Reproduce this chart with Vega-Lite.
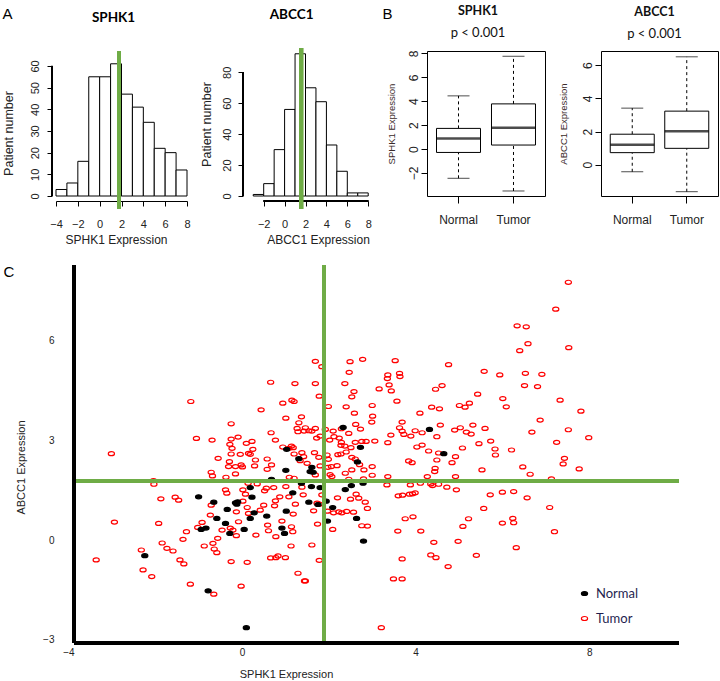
{
"$schema":"https://vega.github.io/schema/vega-lite/v6.json",
"padding":{"left":2,"top":4,"right":2,"bottom":2},
"background":"white",
"title":{"text":"A","anchor":"start","fontSize":15,"offset":-17},
"config":{"font":"Liberation Sans","view":{"stroke":null},
"axis":{"grid":false,"labelFont":"Liberation Sans","titleFont":"Liberation Sans","titleFontWeight":"normal","labelColor":"#222","titleColor":"#222","tickColor":"#000","domainColor":"#000","labelFlush":false,"labelOverlap":false},
"title":{"font":"Liberation Sans","fontWeight":"normal","color":"#000"}},
"datasets":{"pts":[
{"x":7.52,"y":7.76,"g":"Tumor"},{"x":7.23,"y":6.95,"g":"Tumor"},{"x":6.34,"y":6.45,"g":"Tumor"},{"x":6.55,"y":6.42,"g":"Tumor"},{"x":6.59,"y":5.91,"g":"Tumor"},{"x":6.40,"y":5.70,"g":"Tumor"},{"x":7.53,"y":5.79,"g":"Tumor"},{"x":1.69,"y":5.38,"g":"Tumor"},{"x":2.49,"y":5.37,"g":"Tumor"},{"x":2.78,"y":5.44,"g":"Tumor"},{"x":3.53,"y":5.40,"g":"Tumor"},{"x":4.76,"y":5.28,"g":"Tumor"},{"x":5.58,"y":5.08,"g":"Tumor"},{"x":5.94,"y":4.97,"g":"Tumor"},{"x":6.53,"y":5.02,"g":"Tumor"},{"x":6.91,"y":4.99,"g":"Tumor"},{"x":2.47,"y":5.05,"g":"Tumor"},{"x":3.36,"y":4.97,"g":"Tumor"},{"x":3.63,"y":5.02,"g":"Tumor"},{"x":3.64,"y":4.92,"g":"Tumor"},{"x":3.35,"y":4.86,"g":"Tumor"},{"x":3.39,"y":4.67,"g":"Tumor"},{"x":1.69,"y":4.71,"g":"Tumor"},{"x":2.37,"y":4.71,"g":"Tumor"},{"x":6.51,"y":4.65,"g":"Tumor"},{"x":6.81,"y":4.62,"g":"Tumor"},{"x":4.61,"y":4.65,"g":"Tumor"},{"x":4.46,"y":4.54,"g":"Tumor"},{"x":3.16,"y":4.55,"g":"Tumor"},{"x":3.44,"y":4.49,"g":"Tumor"},{"x":2.58,"y":4.47,"g":"Tumor"},{"x":1.78,"y":4.33,"g":"Tumor"},{"x":2.53,"y":4.31,"g":"Tumor"},{"x":5.43,"y":4.39,"g":"Tumor"},{"x":6.01,"y":4.26,"g":"Tumor"},{"x":7.33,"y":4.21,"g":"Tumor"},{"x":3.57,"y":4.18,"g":"Tumor"},{"x":1.99,"y":4.02,"g":"Tumor"},{"x":2.40,"y":4.01,"g":"Tumor"},{"x":3.00,"y":4.05,"g":"Tumor"},{"x":4.37,"y":4.00,"g":"Tumor"},{"x":4.55,"y":3.95,"g":"Tumor"},{"x":5.01,"y":4.05,"g":"Tumor"},{"x":5.14,"y":4.00,"g":"Tumor"},{"x":5.24,"y":4.12,"g":"Tumor"},{"x":6.09,"y":4.01,"g":"Tumor"},{"x":7.81,"y":3.88,"g":"Tumor"},{"x":2.59,"y":3.82,"g":"Tumor"},{"x":4.10,"y":3.82,"g":"Tumor"},{"x":3.01,"y":3.73,"g":"Tumor"},{"x":2.99,"y":3.55,"g":"Tumor"},{"x":3.69,"y":3.55,"g":"Tumor"},{"x":6.87,"y":3.61,"g":"Tumor"},{"x":2.62,"y":3.48,"g":"Tumor"},{"x":4.57,"y":3.46,"g":"Tumor"},{"x":5.32,"y":3.46,"g":"Tumor"},{"x":3.63,"y":3.38,"g":"Tumor"},{"x":3.69,"y":3.28,"g":"Tumor"},{"x":3.73,"y":3.18,"g":"Tumor"},{"x":3.89,"y":3.13,"g":"Tumor"},{"x":3.99,"y":3.29,"g":"Tumor"},{"x":4.15,"y":3.23,"g":"Tumor"},{"x":3.43,"y":3.16,"g":"Tumor"},{"x":2.73,"y":3.34,"g":"Tumor"},{"x":2.46,"y":3.21,"g":"Tumor"},{"x":4.49,"y":3.11,"g":"Tumor"},{"x":4.90,"y":3.31,"g":"Tumor"},{"x":5.03,"y":3.38,"g":"Tumor"},{"x":5.17,"y":3.25,"g":"Tumor"},{"x":5.28,"y":3.19,"g":"Tumor"},{"x":5.60,"y":3.36,"g":"Tumor"},{"x":6.68,"y":3.25,"g":"Tumor"},{"x":7.52,"y":3.32,"g":"Tumor"},{"x":7.99,"y":3.08,"g":"Tumor"},{"x":7.25,"y":2.94,"g":"Tumor"},{"x":5.73,"y":2.98,"g":"Tumor"},{"x":5.46,"y":2.90,"g":"Tumor"},{"x":6.21,"y":2.71,"g":"Tumor"},{"x":5.83,"y":2.74,"g":"Tumor"},{"x":5.84,"y":2.56,"g":"Tumor"},{"x":5.08,"y":2.77,"g":"Tumor"},{"x":4.92,"y":2.51,"g":"Tumor"},{"x":4.03,"y":2.80,"g":"Tumor"},{"x":4.15,"y":2.86,"g":"Tumor"},{"x":4.30,"y":2.68,"g":"Tumor"},{"x":4.53,"y":2.62,"g":"Tumor"},{"x":3.06,"y":2.98,"g":"Tumor"},{"x":2.76,"y":2.97,"g":"Tumor"},{"x":2.86,"y":2.97,"g":"Tumor"},{"x":3.36,"y":2.93,"g":"Tumor"},{"x":2.51,"y":2.78,"g":"Tumor"},{"x":2.02,"y":3.01,"g":"Tumor"},{"x":2.12,"y":3.11,"g":"Tumor"},{"x":2.24,"y":3.07,"g":"Tumor"},{"x":2.29,"y":2.94,"g":"Tumor"},{"x":2.37,"y":2.83,"g":"Tumor"},{"x":1.67,"y":2.63,"g":"Tumor"},{"x":1.77,"y":2.49,"g":"Tumor"},{"x":1.96,"y":2.56,"g":"Tumor"},{"x":2.40,"y":2.65,"g":"Tumor"},{"x":2.28,"y":2.59,"g":"Tumor"},{"x":2.53,"y":2.49,"g":"Tumor"},{"x":7.43,"y":2.46,"g":"Tumor"},{"x":1.69,"y":3.36,"g":"Tumor"},{"x":1.46,"y":3.38,"g":"Tumor"},{"x":1.54,"y":3.29,"g":"Tumor"},{"x":1.72,"y":3.07,"g":"Tumor"},{"x":1.80,"y":3.13,"g":"Tumor"},{"x":1.92,"y":3.33,"g":"Tumor"},{"x":2.10,"y":3.28,"g":"Tumor"},{"x":7.40,"y":2.29,"g":"Tumor"},{"x":7.77,"y":2.14,"g":"Tumor"},{"x":6.47,"y":2.20,"g":"Tumor"},{"x":6.64,"y":1.98,"g":"Tumor"},{"x":7.13,"y":1.84,"g":"Tumor"},{"x":5.53,"y":2.11,"g":"Tumor"},{"x":4.92,"y":1.91,"g":"Tumor"},{"x":4.45,"y":2.16,"g":"Tumor"},{"x":4.44,"y":2.06,"g":"Tumor"},{"x":4.49,"y":2.41,"g":"Tumor"},{"x":4.84,"y":2.33,"g":"Tumor"},{"x":3.84,"y":2.38,"g":"Tumor"},{"x":3.92,"y":2.33,"g":"Tumor"},{"x":4.27,"y":1.91,"g":"Tumor"},{"x":4.35,"y":1.69,"g":"Tumor"},{"x":4.39,"y":1.64,"g":"Tumor"},{"x":4.53,"y":1.68,"g":"Tumor"},{"x":4.11,"y":1.71,"g":"Tumor"},{"x":3.88,"y":1.66,"g":"Tumor"},{"x":3.34,"y":1.66,"g":"Tumor"},{"x":3.36,"y":1.91,"g":"Tumor"},{"x":3.00,"y":2.21,"g":"Tumor"},{"x":3.00,"y":1.95,"g":"Tumor"},{"x":2.81,"y":2.11,"g":"Tumor"},{"x":2.80,"y":1.84,"g":"Tumor"},{"x":2.19,"y":2.24,"g":"Tumor"},{"x":2.06,"y":2.21,"g":"Tumor"},{"x":2.03,"y":1.97,"g":"Tumor"},{"x":4.72,"y":1.59,"g":"Tumor"},{"x":4.94,"y":1.51,"g":"Tumor"},{"x":5.72,"y":1.36,"g":"Tumor"},{"x":6.00,"y":1.44,"g":"Tumor"},{"x":6.26,"y":1.46,"g":"Tumor"},{"x":6.57,"y":1.27,"g":"Tumor"},{"x":7.09,"y":0.98,"g":"Tumor"},{"x":5.57,"y":0.95,"g":"Tumor"},{"x":5.22,"y":0.64,"g":"Tumor"},{"x":5.09,"y":0.41,"g":"Tumor"},{"x":6.00,"y":0.51,"g":"Tumor"},{"x":6.24,"y":0.65,"g":"Tumor"},{"x":6.26,"y":0.52,"g":"Tumor"},{"x":7.20,"y":0.25,"g":"Tumor"},{"x":6.32,"y":-0.23,"g":"Tumor"},{"x":5.40,"y":-0.46,"g":"Tumor"},{"x":4.98,"y":-0.04,"g":"Tumor"},{"x":4.42,"y":-0.07,"g":"Tumor"},{"x":4.12,"y":0.27,"g":"Tumor"},{"x":3.76,"y":0.64,"g":"Tumor"},{"x":3.94,"y":0.70,"g":"Tumor"},{"x":3.60,"y":1.33,"g":"Tumor"},{"x":3.70,"y":1.35,"g":"Tumor"},{"x":3.86,"y":1.38,"g":"Tumor"},{"x":3.93,"y":1.39,"g":"Tumor"},{"x":3.99,"y":1.42,"g":"Tumor"},{"x":3.59,"y":0.27,"g":"Tumor"},{"x":3.69,"y":-0.57,"g":"Tumor"},{"x":4.35,"y":-0.45,"g":"Tumor"},{"x":4.47,"y":-0.53,"g":"Tumor"},{"x":4.75,"y":-0.80,"g":"Tumor"},{"x":3.49,"y":-1.17,"g":"Tumor"},{"x":3.69,"y":-1.17,"g":"Tumor"},{"x":3.21,"y":-2.64,"g":"Tumor"},{"x":2.84,"y":1.14,"g":"Tumor"},{"x":2.89,"y":0.95,"g":"Tumor"},{"x":2.63,"y":1.38,"g":"Tumor"},{"x":2.69,"y":1.26,"g":"Tumor"},{"x":2.41,"y":0.86,"g":"Tumor"},{"x":2.57,"y":0.84,"g":"Tumor"},{"x":2.76,"y":0.43,"g":"Tumor"},{"x":2.89,"y":0.42,"g":"Tumor"},{"x":2.09,"y":0.32,"g":"Tumor"},{"x":2.20,"y":1.27,"g":"Tumor"},{"x":1.74,"y":0.48,"g":"Tumor"},{"x":1.61,"y":-0.15,"g":"Tumor"},{"x":1.78,"y":-0.61,"g":"Tumor"},{"x":1.44,"y":-1.23,"g":"Tumor"},{"x":1.65,"y":0.88,"g":"Tumor"},{"x":1.73,"y":1.11,"g":"Tumor"},{"x":1.78,"y":1.08,"g":"Tumor"},{"x":1.97,"y":0.87,"g":"Tumor"},{"x":2.11,"y":0.82,"g":"Tumor"},{"x":1.41,"y":1.36,"g":"Tumor"},{"x":1.38,"y":1.59,"g":"Tumor"},{"x":-3.36,"y":-0.60,"g":"Tumor"},{"x":-2.94,"y":0.54,"g":"Tumor"},{"x":-3.01,"y":2.60,"g":"Tumor"},{"x":-2.32,"y":-0.30,"g":"Tumor"},{"x":-2.28,"y":-0.90,"g":"Tumor"},{"x":-2.08,"y":-1.10,"g":"Tumor"},{"x":-2.04,"y":1.79,"g":"Tumor"},{"x":-2.03,"y":1.68,"g":"Tumor"},{"x":-1.87,"y":1.24,"g":"Tumor"},{"x":-1.92,"y":0.50,"g":"Tumor"},{"x":-1.84,"y":-0.09,"g":"Tumor"},{"x":-1.73,"y":-0.25,"g":"Tumor"},{"x":-1.59,"y":-0.33,"g":"Tumor"},{"x":-1.54,"y":1.29,"g":"Tumor"},{"x":-1.46,"y":1.20,"g":"Tumor"},{"x":-1.36,"y":0.02,"g":"Tumor"},{"x":-1.28,"y":0.25,"g":"Tumor"},{"x":-1.43,"y":-0.60,"g":"Tumor"},{"x":-1.34,"y":-0.72,"g":"Tumor"},{"x":-1.19,"y":-1.33,"g":"Tumor"},{"x":-1.02,"y":0.38,"g":"Tumor"},{"x":-0.92,"y":0.53,"g":"Tumor"},{"x":-0.87,"y":-0.18,"g":"Tumor"},{"x":-0.71,"y":2.04,"g":"Tumor"},{"x":-0.68,"y":1.93,"g":"Tumor"},{"x":-0.65,"y":-1.63,"g":"Tumor"},{"x":-0.67,"y":-0.10,"g":"Tumor"},{"x":-0.64,"y":-0.27,"g":"Tumor"},{"x":-0.58,"y":-0.38,"g":"Tumor"},{"x":-0.73,"y":0.75,"g":"Tumor"},{"x":-0.71,"y":1.05,"g":"Tumor"},{"x":-0.55,"y":2.46,"g":"Tumor"},{"x":-0.56,"y":0.05,"g":"Tumor"},{"x":-0.46,"y":0.30,"g":"Tumor"},{"x":-0.38,"y":1.51,"g":"Tumor"},{"x":-0.35,"y":1.41,"g":"Tumor"},{"x":-0.28,"y":2.88,"g":"Tumor"},{"x":-0.23,"y":2.76,"g":"Tumor"},{"x":-0.25,"y":2.59,"g":"Tumor"},{"x":-0.29,"y":2.36,"g":"Tumor"},{"x":-0.31,"y":2.21,"g":"Tumor"},{"x":-0.25,"y":-0.65,"g":"Tumor"},{"x":-0.21,"y":0.30,"g":"Tumor"},{"x":-0.27,"y":0.36,"g":"Tumor"},{"x":-0.15,"y":1.99,"g":"Tumor"},{"x":-0.13,"y":0.13,"g":"Tumor"},{"x":-0.13,"y":0.85,"g":"Tumor"},{"x":-0.08,"y":0.55,"g":"Tumor"},{"x":-0.04,"y":2.58,"g":"Tumor"},{"x":-0.02,"y":2.26,"g":"Tumor"},{"x":0.01,"y":2.20,"g":"Tumor"},{"x":-0.02,"y":-1.39,"g":"Tumor"},{"x":0.12,"y":-0.67,"g":"Tumor"},{"x":0.02,"y":1.51,"g":"Tumor"},{"x":0.08,"y":1.38,"g":"Tumor"},{"x":0.02,"y":1.17,"g":"Tumor"},{"x":0.12,"y":0.98,"g":"Tumor"},{"x":0.15,"y":0.80,"g":"Tumor"},{"x":0.19,"y":2.58,"g":"Tumor"},{"x":0.10,"y":2.91,"g":"Tumor"},{"x":0.32,"y":0.15,"g":"Tumor"},{"x":0.14,"y":1.71,"g":"Tumor"},{"x":0.35,"y":1.69,"g":"Tumor"},{"x":0.31,"y":2.41,"g":"Tumor"},{"x":0.29,"y":2.23,"g":"Tumor"},{"x":0.42,"y":0.90,"g":"Tumor"},{"x":0.50,"y":1.05,"g":"Tumor"},{"x":0.52,"y":1.48,"g":"Tumor"},{"x":0.58,"y":2.44,"g":"Tumor"},{"x":0.58,"y":2.13,"g":"Tumor"},{"x":0.59,"y":0.45,"g":"Tumor"},{"x":0.61,"y":0.28,"g":"Tumor"},{"x":0.66,"y":-0.54,"g":"Tumor"},{"x":0.78,"y":-0.53,"g":"Tumor"},{"x":0.83,"y":-0.48,"g":"Tumor"},{"x":1.00,"y":-0.53,"g":"Tumor"},{"x":0.68,"y":2.26,"g":"Tumor"},{"x":0.73,"y":1.58,"g":"Tumor"},{"x":0.77,"y":1.18,"g":"Tumor"},{"x":0.87,"y":1.30,"g":"Tumor"},{"x":0.75,"y":1.03,"g":"Tumor"},{"x":0.92,"y":0.57,"g":"Tumor"},{"x":0.78,"y":0.10,"g":"Tumor"},{"x":1.13,"y":-0.18,"g":"Tumor"},{"x":1.14,"y":0.40,"g":"Tumor"},{"x":1.17,"y":0.25,"g":"Tumor"},{"x":1.18,"y":0.78,"g":"Tumor"},{"x":1.23,"y":1.08,"g":"Tumor"},{"x":1.08,"y":1.30,"g":"Tumor"},{"x":1.01,"y":1.61,"g":"Tumor"},{"x":1.09,"y":1.89,"g":"Tumor"},{"x":1.20,"y":1.86,"g":"Tumor"},{"x":1.14,"y":2.83,"g":"Tumor"},{"x":1.20,"y":2.59,"g":"Tumor"},{"x":1.38,"y":2.63,"g":"Tumor"},{"x":1.42,"y":2.51,"g":"Tumor"},{"x":1.34,"y":2.39,"g":"Tumor"},{"x":1.50,"y":2.31,"g":"Tumor"},{"x":1.29,"y":-1.00,"g":"Tumor"},{"x":1.46,"y":-1.23,"g":"Tumor"},{"x":1.84,"y":1.36,"g":"Tumor"},{"x":1.69,"y":1.96,"g":"Tumor"},{"x":1.98,"y":2.19,"g":"Tumor"},{"x":2.07,"y":1.91,"g":"Tumor"},{"x":2.23,"y":0.85,"g":"Tumor"},{"x":2.30,"y":0.82,"g":"Tumor"},{"x":2.46,"y":1.83,"g":"Tumor"},{"x":2.53,"y":2.11,"g":"Tumor"},{"x":2.50,"y":1.23,"g":"Tumor"},{"x":2.38,"y":2.01,"g":"Tumor"},{"x":-1.18,"y":4.17,"g":"Tumor"},{"x":-1.05,"y":3.06,"g":"Tumor"},{"x":-0.69,"y":3.01,"g":"Tumor"},{"x":-0.25,"y":3.50,"g":"Tumor"},{"x":-0.09,"y":3.10,"g":"Tumor"},{"x":-0.25,"y":3.04,"g":"Tumor"},{"x":0.23,"y":2.97,"g":"Tumor"},{"x":0.44,"y":3.92,"g":"Tumor"},{"x":0.66,"y":4.75,"g":"Tumor"},{"x":0.67,"y":3.23,"g":"Tumor"},{"x":0.77,"y":3.01,"g":"Tumor"},{"x":0.94,"y":4.12,"g":"Tumor"},{"x":1.15,"y":4.21,"g":"Tumor"},{"x":1.20,"y":4.17,"g":"Tumor"},{"x":1.01,"y":3.67,"g":"Tumor"},{"x":1.22,"y":4.71,"g":"Tumor"},{"x":1.37,"y":3.71,"g":"Tumor"},{"x":1.31,"y":3.53,"g":"Tumor"},{"x":1.27,"y":3.36,"g":"Tumor"},{"x":1.29,"y":3.26,"g":"Tumor"},{"x":1.84,"y":5.22,"g":"Tumor"},{"x":0.94,"y":2.80,"g":"Tumor"},{"x":1.08,"y":2.76,"g":"Tumor"},{"x":0.15,"y":2.61,"g":"Tumor"},{"x":2.29,"y":3.35,"g":"Tumor"},{"x":1.99,"y":2.43,"g":"Tumor"},{"x":2.21,"y":2.57,"g":"Tumor"},{"x":2.61,"y":2.44,"g":"Tumor"},{"x":2.71,"y":2.27,"g":"Tumor"},{"x":1.80,"y":2.23,"g":"Tumor"},{"x":1.43,"y":3.28,"g":"Tumor"},{"x":1.61,"y":3.28,"g":"Tumor"},{"x":0.25,"y":2.73,"g":"Tumor"},{"x":-0.15,"y":2.21,"g":"Tumor"},{"x":0.56,"y":1.56,"g":"Tumor"},{"x":1.18,"y":2.78,"g":"Tumor"},{"x":2.28,"y":2.85,"g":"Tumor"},{"x":2.61,"y":2.94,"g":"Tumor"},{"x":-0.37,"y":1.89,"g":"Tumor"},
{"x":-2.24,"y":-0.47,"g":"Normal"},{"x":-0.78,"y":-1.53,"g":"Normal"},{"x":0.10,"y":-2.64,"g":"Normal"},{"x":-1.00,"y":1.30,"g":"Normal"},{"x":-0.65,"y":1.14,"g":"Normal"},{"x":-0.94,"y":0.32,"g":"Normal"},{"x":-0.83,"y":0.36,"g":"Normal"},{"x":-0.58,"y":0.65,"g":"Normal"},{"x":-0.38,"y":0.50,"g":"Normal"},{"x":-0.28,"y":0.20,"g":"Normal"},{"x":-0.34,"y":0.92,"g":"Normal"},{"x":-0.15,"y":1.12,"g":"Normal"},{"x":-0.10,"y":1.15,"g":"Normal"},{"x":-0.12,"y":1.08,"g":"Normal"},{"x":0.05,"y":0.32,"g":"Normal"},{"x":0.19,"y":1.58,"g":"Normal"},{"x":0.23,"y":1.29,"g":"Normal"},{"x":0.19,"y":0.65,"g":"Normal"},{"x":0.28,"y":0.82,"g":"Normal"},{"x":0.57,"y":0.72,"g":"Normal"},{"x":0.68,"y":1.83,"g":"Normal"},{"x":1.01,"y":2.10,"g":"Normal"},{"x":1.03,"y":2.73,"g":"Normal"},{"x":1.31,"y":2.45,"g":"Normal"},{"x":1.02,"y":0.87,"g":"Normal"},{"x":0.92,"y":0.36,"g":"Normal"},{"x":0.98,"y":0.20,"g":"Normal"},{"x":1.17,"y":1.42,"g":"Normal"},{"x":1.37,"y":1.71,"g":"Normal"},{"x":1.61,"y":2.19,"g":"Normal"},{"x":1.57,"y":2.06,"g":"Normal"},{"x":1.64,"y":2.04,"g":"Normal"},{"x":1.60,"y":1.61,"g":"Normal"},{"x":1.80,"y":1.58,"g":"Normal"},{"x":2.52,"y":1.64,"g":"Normal"},{"x":2.38,"y":1.52,"g":"Normal"},{"x":2.79,"y":1.71,"g":"Normal"},{"x":1.54,"y":1.14,"g":"Normal"},{"x":1.94,"y":1.17,"g":"Normal"},{"x":2.09,"y":0.98,"g":"Normal"},{"x":1.97,"y":0.57,"g":"Normal"},{"x":2.64,"y":0.65,"g":"Normal"},{"x":2.80,"y":-0.03,"g":"Normal"},{"x":2.66,"y":2.35,"g":"Normal"},{"x":2.73,"y":2.79,"g":"Normal"},{"x":2.33,"y":3.39,"g":"Normal"},{"x":4.32,"y":3.33,"g":"Normal"},{"x":4.65,"y":2.60,"g":"Normal"},{"x":1.75,"y":1.07,"g":"Normal"}
]},
"vconcat":[
{"title":{"text":"B","anchor":"start","fontSize":15,"offset":-17,"dx":380},
 "hconcat":[
   {"width":131,"height":145,
    "title":{"text":"SPHK1","font":"Lato","fontSize":13.5,"fontWeight":"bold","offset":24.5,"dx":-8},
    "data":{"values":[{"lo":-4,"hi":-3,"n":3},{"lo":-3,"hi":-2,"n":6},{"lo":-2,"hi":-1,"n":16},{"lo":-1,"hi":0,"n":55},{"lo":0,"hi":1,"n":55},{"lo":1,"hi":2,"n":61},{"lo":2,"hi":3,"n":47},{"lo":3,"hi":4,"n":41},{"lo":4,"hi":5,"n":34},{"lo":5,"hi":6,"n":22},{"lo":6,"hi":7,"n":20},{"lo":7,"hi":8,"n":12}]},
    "layer":[
     {"mark":{"type":"bar","fill":"white","stroke":"black","strokeWidth":1},
      "encoding":{
       "x":{"field":"lo","type":"quantitative","title":"SPHK1 Expression","scale":{"domain":[-4,8],"nice":false,"zero":false},
            "axis":{"values":[-4,-2,0,2,4,6,8],"format":"d","tickCount":30,"labelOverlap":false,"offset":5,"tickSize":5,"labelPadding":12.5,"labelFontSize":11,"titleFontSize":12,"titlePadding":5,"titleX":60,"titleAlign":"center"}},
       "x2":{"field":"hi"},
       "y":{"field":"n","type":"quantitative","title":"Patient number","scale":{"domain":[0,66.9],"nice":false,"zero":false},
            "axis":{"values":[0,10,20,30,40,50,60],"format":"d","tickCount":30,"labelOverlap":false,"offset":4,"domain":false,"tickSize":5,"labelAngle":-90,"labelAlign":"center","labelBaseline":"bottom","labelPadding":7,"labelFontSize":11,"titleFontSize":12.5,"titlePadding":13.5,"titleY":82,"titleAlign":"center"}},
       "y2":{"datum":0}}},
     {"mark":{"type":"rule","color":"black","strokeWidth":1},"encoding":{"x":{"datum":-4.37},"y":{"datum":0},"y2":{"datum":60}}},
     {"mark":{"type":"rule","color":"#6fac46","strokeWidth":3.5},"encoding":{"x":{"datum":1.75},"y":{"datum":-6},"y2":{"datum":66.9}}}
    ]},
   {"width":127.2,"height":145,
    "title":{"text":"ABCC1","font":"Lato","fontSize":13.5,"fontWeight":"bold","offset":24.5,"dx":-15},
    "data":{"values":[{"lo":-3,"hi":-2,"n":1},{"lo":-2,"hi":-1,"n":8},{"lo":-1,"hi":0,"n":30},{"lo":0,"hi":1,"n":56},{"lo":1,"hi":2,"n":92},{"lo":2,"hi":3,"n":70},{"lo":3,"hi":4,"n":61},{"lo":4,"hi":5,"n":33},{"lo":5,"hi":6,"n":16},{"lo":6,"hi":7,"n":2},{"lo":7,"hi":8,"n":2}]},
    "layer":[
     {"mark":{"type":"bar","fill":"white","stroke":"black","strokeWidth":1},
      "encoding":{
       "x":{"field":"lo","type":"quantitative","title":"ABCC1 Expression","scale":{"domain":[-3.98,8.19],"nice":false,"zero":false},
            "axis":{"values":[-2,0,2,4,6,8],"format":"d","tickCount":30,"labelOverlap":false,"offset":5,"domain":false,"tickSize":5,"labelPadding":12.5,"labelFontSize":11,"titleFontSize":12,"titlePadding":5,"titleX":75,"titleAlign":"center"}},
       "x2":{"field":"hi"},
       "y":{"field":"n","type":"quantitative","title":"Patient number","scale":{"domain":[0,93.8],"nice":false,"zero":false},
            "axis":{"values":[0,20,40,60,80],"format":"d","tickCount":30,"labelOverlap":false,"domain":false,"tickSize":5,"labelAngle":-90,"labelAlign":"center","labelBaseline":"bottom","labelPadding":6,"labelFontSize":11,"titleFontSize":12.5,"titlePadding":8,"titleY":73,"titleAlign":"center"}},
       "y2":{"datum":0}}},
     {"mark":{"type":"rule","color":"black","strokeWidth":1},"encoding":{"x":{"datum":-3.98},"y":{"datum":0},"y2":{"datum":80}}},
     {"mark":{"type":"rule","color":"black","strokeWidth":1},"encoding":{"x":{"datum":-2},"x2":{"datum":8},"y":{"datum":-3.23}}},
     {"mark":{"type":"rule","color":"#6fac46","strokeWidth":3.5},"encoding":{"x":{"datum":1.6},"y":{"datum":-8.4},"y2":{"datum":95.7}}}
    ]},
   {"width":118,"height":145,"view":{"stroke":"black","strokeWidth":1},
    "title":{"text":"SPHK1","subtitle":"p < 0.001","font":"Lato","fontSize":12.5,"fontWeight":"bold","subtitleFont":"Lato","subtitleFontSize":13,"subtitlePadding":9,"offset":10.5,"dx":-8,"color":"#111","subtitleColor":"#111"},
    "data":{"values":[{"group":"Normal","lower":-2.44,"q1":-0.28,"median":0.89,"q3":1.73,"upper":4.45},{"group":"Tumor","lower":-3.5,"q1":0.34,"median":1.79,"q3":3.78,"upper":7.76}]},
    "encoding":{"x":{"field":"group","type":"nominal","sort":["Normal","Tumor"],"scale":{"paddingInner":0,"paddingOuter":0.073},
      "axis":{"domain":false,"tickSize":7,"labelPadding":11,"labelFontSize":12,"labelAngle":0,"title":null}}},
    "layer":[
     {"mark":{"type":"rule","strokeDash":[3,3],"color":"black"},"encoding":{"y":{"field":"lower","type":"quantitative","title":"SPHK1 Expression","scale":{"domain":[-3.92,8.2],"nice":false,"zero":false},
       "axis":{"values":[-2,0,2,4,6,8],"format":"d","tickCount":30,"labelOverlap":false,"domain":false,"tickSize":6,"labelAngle":-90,"labelAlign":"center","labelBaseline":"bottom","labelPadding":1,"labelFontSize":12,"titleFontSize":9.5,"titleColor":"#3a2a2a","titlePadding":11}},"y2":{"field":"q1"}}},
     {"mark":{"type":"rule","strokeDash":[3,3],"color":"black"},"encoding":{"y":{"field":"q3","type":"quantitative","title":"SPHK1 Expression"},"y2":{"field":"upper"}}},
     {"mark":{"type":"tick","size":22,"thickness":1,"color":"black"},"encoding":{"y":{"field":"lower","type":"quantitative","title":"SPHK1 Expression"}}},
     {"mark":{"type":"tick","size":22,"thickness":1,"color":"black"},"encoding":{"y":{"field":"upper","type":"quantitative","title":"SPHK1 Expression"}}},
     {"mark":{"type":"bar","size":44,"fill":"white","stroke":"black","strokeWidth":1},"encoding":{"y":{"field":"q1","type":"quantitative","title":"SPHK1 Expression"},"y2":{"field":"q3"}}},
     {"mark":{"type":"tick","size":44,"thickness":2.5,"color":"black"},"encoding":{"y":{"field":"median","type":"quantitative","title":"SPHK1 Expression"}}}
    ]},
   {"width":117,"height":145,"view":{"stroke":"black","strokeWidth":1},
    "title":{"text":"ABCC1","subtitle":"p < 0.001","font":"Lato","fontSize":12.5,"fontWeight":"bold","subtitleFont":"Lato","subtitleFontSize":13,"subtitlePadding":9,"offset":10.5,"dx":-5,"color":"#111","subtitleColor":"#111"},
    "data":{"values":[{"group":"Normal","lower":-0.42,"q1":0.73,"median":1.21,"q3":1.84,"upper":3.41},{"group":"Tumor","lower":-1.62,"q1":0.99,"median":2.02,"q3":3.23,"upper":6.5}]},
    "encoding":{"x":{"field":"group","type":"nominal","sort":["Normal","Tumor"],"scale":{"paddingInner":0,"paddingOuter":0.073},"axis":{"domain":false,"tickSize":7,"labelPadding":11,"labelFontSize":12,"labelAngle":0,"title":null}}},
    "layer":[
     {"mark":{"type":"rule","strokeDash":[3,3],"color":"black"},"encoding":{"y":{"field":"lower","type":"quantitative","title":"ABCC1 Expression","scale":{"domain":[-1.88,6.85],"nice":false,"zero":false},
       "axis":{"values":[0,2,4,6],"format":"d","tickCount":30,"labelOverlap":false,"domain":false,"tickSize":6,"labelAngle":-90,"labelAlign":"center","labelBaseline":"bottom","labelPadding":1,"labelFontSize":12,"titleFontSize":9.5,"titleColor":"#3a2a2a","titlePadding":13}},"y2":{"field":"q1"}}},
     {"mark":{"type":"rule","strokeDash":[3,3],"color":"black"},"encoding":{"y":{"field":"q3","type":"quantitative","title":"ABCC1 Expression"},"y2":{"field":"upper"}}},
     {"mark":{"type":"tick","size":22,"thickness":1,"color":"black"},"encoding":{"y":{"field":"lower","type":"quantitative","title":"ABCC1 Expression"}}},
     {"mark":{"type":"tick","size":22,"thickness":1,"color":"black"},"encoding":{"y":{"field":"upper","type":"quantitative","title":"ABCC1 Expression"}}},
     {"mark":{"type":"bar","size":44,"fill":"white","stroke":"black","strokeWidth":1},"encoding":{"y":{"field":"q1","type":"quantitative","title":"ABCC1 Expression"},"y2":{"field":"q3"}}},
     {"mark":{"type":"tick","size":44,"thickness":2.5,"color":"black"},"encoding":{"y":{"field":"median","type":"quantitative","title":"ABCC1 Expression"}}}
    ]}
 ],"spacing":56,"bounds":"flush"},
{"width":623,"height":378,
 "title":{"text":"C","anchor":"start","fontSize":15,"offset":-16,"dx":-12},
 "data":{"name":"pts"},
 "layer":[
  {"mark":{"type":"point","shape":"M-1,0A1,0.65,0,1,1,1,0A1,0.65,0,1,1,-1,0Z","size":38,"strokeWidth":1.2,"opacity":1},
   "encoding":{
    "x":{"field":"x","type":"quantitative","title":"SPHK1 Expression","scale":{"domain":[-4.286,10.07],"nice":false,"zero":false},
         "axis":{"values":[-4,0,4,8],"format":"d","tickCount":30,"labelOverlap":false,"domain":false,"ticks":false,"labelPadding":4,"labelFontSize":10,"titleFontSize":11,"titlePadding":11,"titleX":230,"titleAlign":"center"}},
    "y":{"field":"y","type":"quantitative","title":"ABCC1 Expression","scale":{"domain":[-3.1,8.28],"nice":false,"zero":false},
         "axis":{"values":[-3,0,3,6],"format":"d","tickCount":30,"labelOverlap":false,"domain":false,"ticks":false,"labelPadding":2,"labelFontSize":10,"titleFontSize":11,"titlePadding":16,"titleY":202,"titleAlign":"center"}},
    "fill":{"field":"g","type":"nominal","scale":{"domain":["Normal","Tumor"],"range":["#000000","transparent"]},
      "legend":{"title":null,"orient":"none","legendX":522,"legendY":322,"labelFont":"Lato","labelFontSize":13,"labelColor":"#1f1f4f","symbolType":"M-1,0A1,0.65,0,1,1,1,0A1,0.65,0,1,1,-1,0Z","symbolSize":38,"symbolStrokeWidth":1.2,"rowPadding":11,"labelOffset":5}},
    "stroke":{"field":"g","type":"nominal","scale":{"domain":["Normal","Tumor"],"range":["#000000","#ff0000"]},
      "legend":{"title":null,"orient":"none","legendX":522,"legendY":322,"labelFont":"Lato","labelFontSize":13,"labelColor":"#1f1f4f","symbolType":"M-1,0A1,0.65,0,1,1,1,0A1,0.65,0,1,1,-1,0Z","symbolSize":38,"symbolStrokeWidth":1.2,"rowPadding":11,"labelOffset":5}}}},
  {"mark":{"type":"rule","color":"#6fac46","strokeWidth":3},"encoding":{"x":{"datum":1.89}}},
  {"mark":{"type":"rule","color":"#6fac46","strokeWidth":3},"encoding":{"y":{"datum":1.78},"x":{"datum":-3.87},"x2":{"datum":10.07}}},
  {"mark":{"type":"rule","color":"black","strokeWidth":3},"encoding":{"x":{"datum":-3.87}}},
  {"mark":{"type":"rule","color":"black","strokeWidth":3},"encoding":{"y":{"datum":-3.1},"x":{"datum":-3.87},"x2":{"datum":10.07}}}
 ]}
],
"resolve":{"legend":{"fill":"independent","stroke":"independent"}},
"spacing":17
}
